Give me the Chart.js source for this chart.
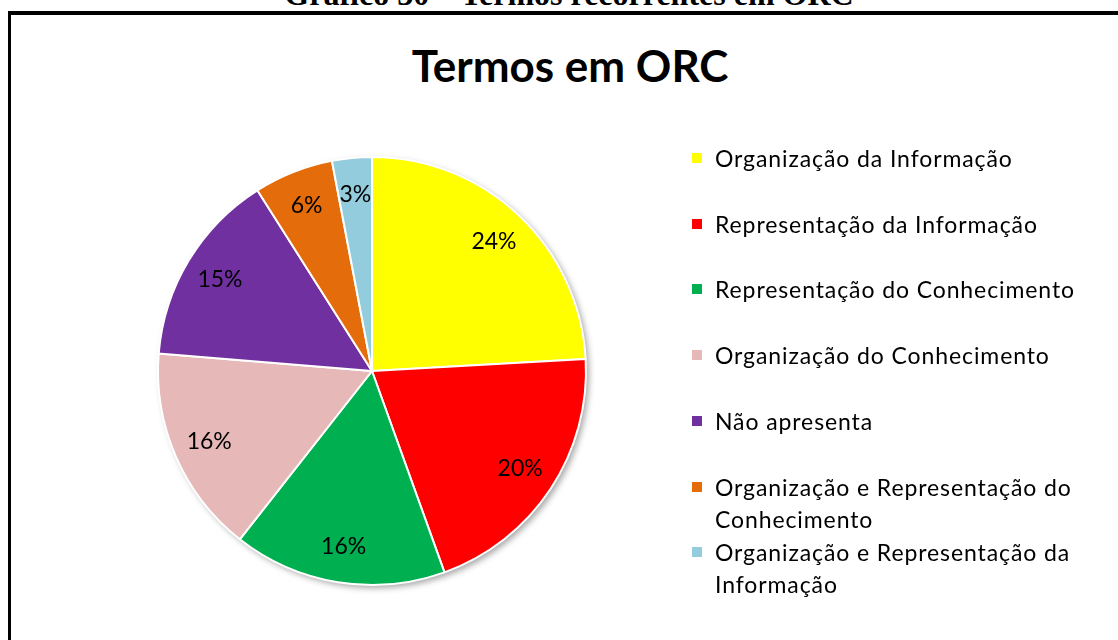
<!DOCTYPE html>
<html>
<head>
<meta charset="utf-8">
<script src="https://cdn.jsdelivr.net/npm/chart.js@4/dist/chart.umd.min.js"></script>
<style>
  body { margin: 0; background: #fff; width: 1118px; height: 640px; overflow: hidden; position: relative; }
  #caption { position: absolute; left: 0; width: 1138px; top: -22px; text-align: center;
    font-family: "Liberation Serif", serif; font-weight: bold; font-size: 32px; line-height: 32px; }
  #frame { position: absolute; left: 8px; top: 11px; width: 1200px; height: 700px;
    border-top: 4px solid #000; border-left: 3px solid #000; }
  #title { position: absolute; left: 0; width: 1140px; top: 38px; text-align: center;
    font-family: Lato, sans-serif; font-weight: bold; font-size: 44px; line-height: 54px; }
  #mycanvas { position: absolute; left: 0; top: 0; }
  .leg { position: absolute; left: 692px; width: 420px; font-family: Lato, sans-serif;
    font-size: 23px; line-height: 32px; letter-spacing: 0.9px; color: #000; }
  .leg i { position: absolute; left: 0; top: 11px; width: 10px; height: 10px; }
  .leg span { display: block; margin-left: 23px; width: 375px; }
</style>
</head>
<body>
<div id="caption">Gráfico 30 – Termos recorrentes em ORC</div>
<div id="frame"></div>
<div id="title">Termos em ORC</div>
<canvas id="mycanvas" width="1118" height="640"></canvas>
<div id="legend"></div>
<script>
var categories = [
  "Organização da Informação",
  "Representação da Informação",
  "Representação do Conhecimento",
  "Organização do Conhecimento",
  "Não apresenta",
  "Organização e Representação do Conhecimento",
  "Organização e Representação da Informação"
];
// shares (labels show 24, 20, 16, 16, 15, 6, 3 %)
var shares = [24.1, 20.4, 16.1, 15.7, 14.7, 6.0, 3.0];
var colors = ["#FFFF00", "#FF0000", "#00B050", "#E6B9B8", "#7030A0", "#E46C0A", "#93CDDD"];

// soft shadow under the pie, like the Excel original
var pieShadow = {
  id: "pieShadow",
  beforeDatasetsDraw: function(chart) {
    var arc = chart.getDatasetMeta(0).data[0];
    if (!arc) return;
    var p = arc.getProps(["x", "y", "outerRadius"], true);
    var c = chart.ctx;
    c.save();
    c.shadowColor = "rgba(0,0,0,0.35)";
    c.shadowBlur = 6;
    c.shadowOffsetX = 3;
    c.shadowOffsetY = 3;
    c.fillStyle = "#ffffff";
    c.beginPath();
    c.arc(p.x, p.y, p.outerRadius, 0, Math.PI * 2);
    c.fill();
    c.restore();
  }
};

// percent labels inside each slice
var sliceLabels = {
  id: "sliceLabels",
  afterDatasetsDraw: function(chart) {
    var c = chart.ctx;
    var meta = chart.getDatasetMeta(0);
    var total = shares.reduce(function(a, b) { return a + b; }, 0);
    c.save();
    c.font = "23px Lato, sans-serif";
    c.fillStyle = "#000";
    c.textAlign = "center";
    c.textBaseline = "middle";
    meta.data.forEach(function(arc, i) {
      var p = arc.getProps(["x", "y", "startAngle", "endAngle", "outerRadius"], true);
      var mid = (p.startAngle + p.endAngle) / 2;
      var r = p.outerRadius * 0.83;
      c.fillText(Math.round(shares[i] / total * 100) + "%", p.x + Math.cos(mid) * r, p.y + Math.sin(mid) * r);
    });
    c.restore();
  }
};

var ctx = document.getElementById("mycanvas");
var pieChart = new Chart(ctx, {
  type: "pie",
  data: {
    labels: categories,
    datasets: [{
      data: shares,
      backgroundColor: colors,
      borderColor: "#ffffff",
      borderWidth: 2
    }]
  },
  options: {
    responsive: false,
    animation: false,
    radius: 214,
    layout: { padding: { left: 156, right: 530, top: 155, bottom: 53 } },
    plugins: {
      legend: { display: false },
      tooltip: { enabled: false }
    }
  },
  plugins: [pieShadow, sliceLabels]
});

// legend built from the same arrays
var legend = document.getElementById("legend");
for (var i = 0; i < categories.length; i++) {
  var item = document.createElement("div");
  item.className = "leg";
  item.style.top = (158 + i * 65.7 - 16) + "px";
  item.innerHTML = '<i style="background:' + colors[i] + '"></i><span>' + categories[i] + "</span>";
  legend.appendChild(item);
}
</script>
</body>
</html>
